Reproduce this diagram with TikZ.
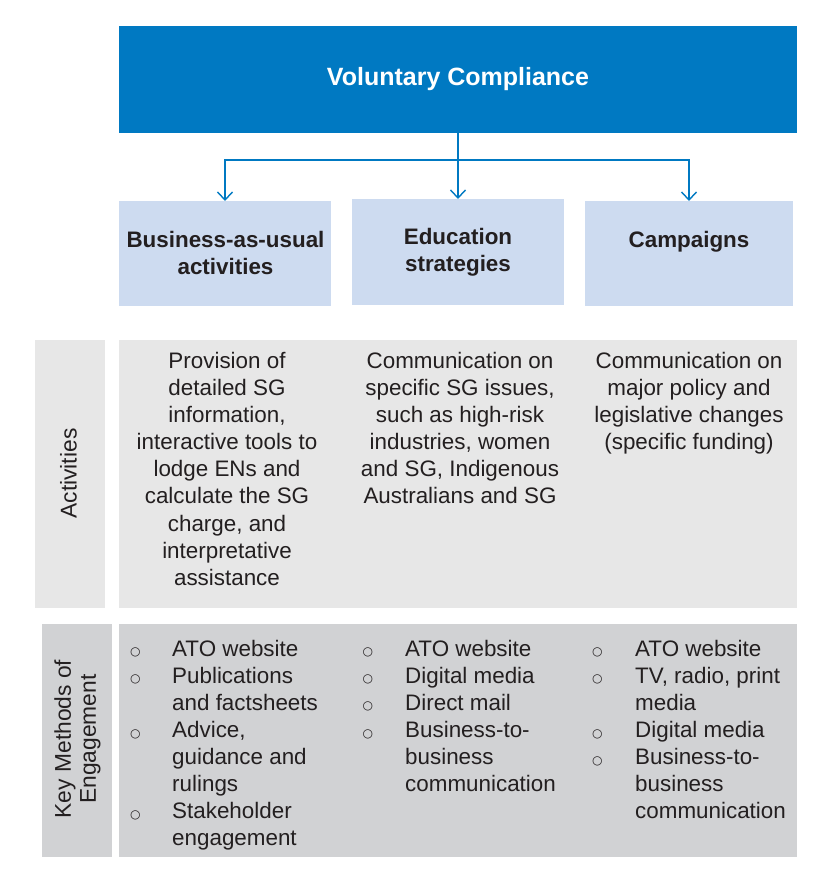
\documentclass[tikz,border=0pt]{standalone}
\usepackage{fontspec}
\setmainfont{Liberation Sans}
\newfontfamily\bulletfont{DejaVu Sans}
\usetikzlibrary{arrows.meta}
\definecolor{vcblue}{RGB}{0,121,194}
\definecolor{lblue}{RGB}{205,219,240}
\definecolor{actgray}{RGB}{231,231,231}
\definecolor{keygray}{RGB}{209,210,212}
\definecolor{txt}{RGB}{35,31,32}
\newcommand{\bl}{\hspace*{0.8pt}\raisebox{0.4pt}{\bulletfont\fontsize{12}{12}\selectfont ○}}
\begin{document}
\begin{tikzpicture}[x=1pt,y=-1pt,
  box/.style={anchor=north west, inner sep=0pt, outer sep=0pt, draw=none},
  conn/.style={draw=vcblue, line width=1.4pt, -{Straight Barb[length=8pt,width=15pt,line width=1.4pt]}},
  head/.style={font=\fontsize{22.4}{27}\selectfont\bfseries, text=txt, align=center, anchor=north, inner sep=0pt},
  body/.style={font=\fontsize{22.4}{27.1}\selectfont, text=txt, align=center, anchor=north, inner sep=0pt},
  blist/.style={font=\fontsize{22.4}{27.1}\selectfont, text=txt, anchor=north west, inner sep=0pt},
  side/.style={font=\fontsize{22.8}{25}\selectfont, text=txt, align=center, rotate=90, inner sep=0pt}]
\useasboundingbox (0,0) rectangle (833,883);
% top box
\node[box, fill=vcblue, minimum width=678pt, minimum height=107pt,
      font=\fontsize{25}{28}\selectfont\bfseries, text=white] (vc) at (119,26) {Voluntary Compliance};
% second level boxes
\node[box, fill=lblue, minimum width=212pt, minimum height=105pt] (bau) at (119,201) {};
\node[box, fill=lblue, minimum width=212pt, minimum height=106pt] (edu) at (352,199) {};
\node[box, fill=lblue, minimum width=208pt, minimum height=105pt] (camp) at (585,201) {};
\node[head] (baut) at (225.5,231) {Business-as-usual\\activities};
\node[head] (edut) at (458,228) {Education\\strategies};
\node[head] (campt) at (689,231) {Campaigns};
% connectors
\coordinate (split) at (458,160);
\draw[conn] (vc.south) -- (edu.north);
\draw[conn] (split) -| (bau.north);
\draw[conn] (split) -| (camp.north);
% activities row
\node[box, fill=actgray, minimum width=70pt, minimum height=268pt] (actlab) at (34.5,340) {};
\node[side] (actlabt) at (68.5,473.5) {Activities};
\node[box, fill=actgray, minimum width=678pt, minimum height=268pt] (act) at (119,340) {};
\node[body] (act1) at (227,352) {Provision of\\detailed SG\\information,\\interactive tools to\\lodge ENs and\\calculate the SG\\charge, and\\interpretative\\assistance};
\node[body] (act2) at (460,352) {Communication on\\specific SG issues,\\such as high-risk\\industries, women\\and SG, Indigenous\\Australians and SG};
\node[body] (act3) at (689,352) {Communication on\\major policy and\\legislative changes\\(specific funding)};
% key methods row
\node[box, fill=keygray, minimum width=70pt, minimum height=233pt] (keylab) at (41.5,624) {};
\node[side] (keylabt) at (77.5,739) {Key Methods of\\Engagement};
\node[box, fill=keygray, minimum width=678pt, minimum height=233pt] (key) at (119,624) {};
\node[blist] (key1) at (129,637) {\begin{tabular}{@{}p{43pt}@{}l@{}}
\bl & ATO website\\
\bl & Publications\\
    & and factsheets\\
\bl & Advice,\\
    & guidance and\\
    & rulings\\
\bl & Stakeholder\\
    & engagement
\end{tabular}};
\node[blist] (key2) at (361.5,637) {\begin{tabular}{@{}p{43.5pt}@{}l@{}}
\bl & ATO website\\
\bl & Digital media\\
\bl & Direct mail\\
\bl & Business-to-\\
    & business\\
    & communication
\end{tabular}};
\node[blist] (key3) at (591,637) {\begin{tabular}{@{}p{44pt}@{}l@{}}
\bl & ATO website\\
\bl & TV, radio, print\\
    & media\\
\bl & Digital media\\
\bl & Business-to-\\
    & business\\
    & communication
\end{tabular}};
\end{tikzpicture}
\end{document}
